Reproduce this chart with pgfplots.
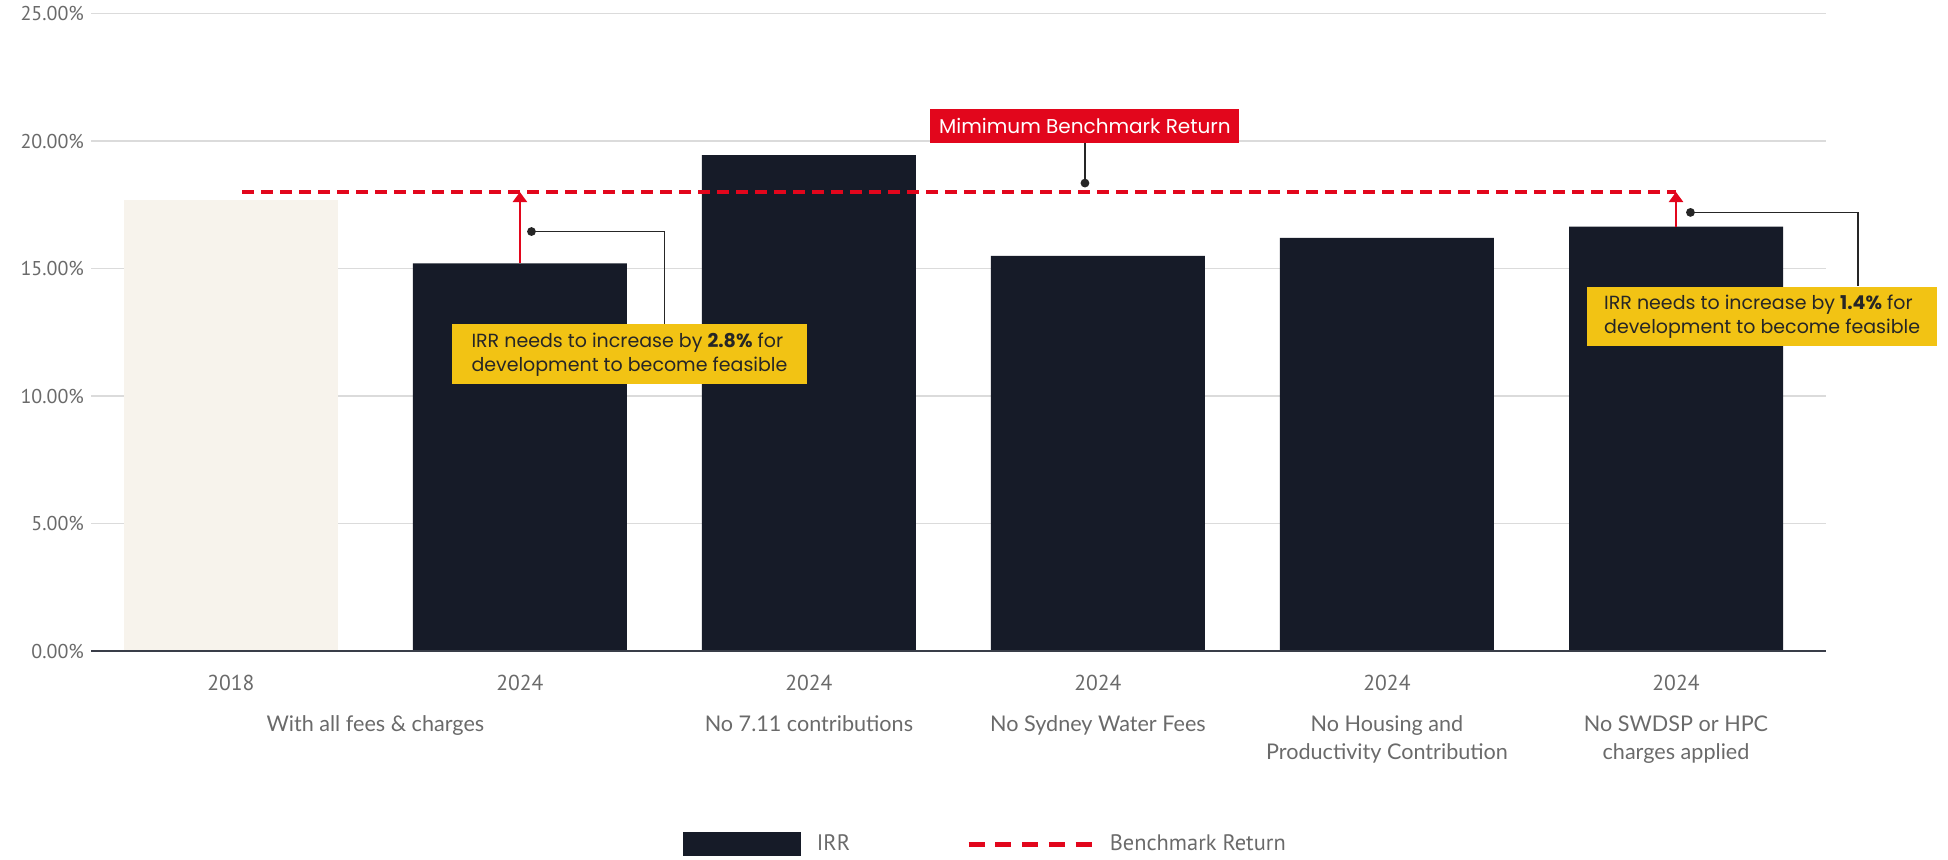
\documentclass[border=0pt]{standalone}
\usepackage{fontspec}
\setmainfont{Lato}
\newfontfamily\din{PT Sans}
\newfontfamily\pop{Poppins}
\usepackage{pgfplots}
\pgfplotsset{compat=1.18}
\usetikzlibrary{arrows.meta}
\definecolor{navy}{HTML}{161B28}
\definecolor{beige}{HTML}{F7F3EC}
\definecolor{bred}{HTML}{E2061C}
\definecolor{gold}{HTML}{F2C314}
\definecolor{tgray}{HTML}{6A6A6A}
\begin{document}
\begin{tikzpicture}
\path[use as bounding box] (-45.5pt,-104pt) rectangle (928.5pt,325.5pt);
\begin{axis}[
  at={(0,0)}, anchor=south west,
  scale only axis, width=867.5pt, height=318.75pt,
  xmin=-0.484, xmax=5.519, ymin=0, ymax=25,
  clip=false,
  axis line style={draw=none},
  tick style={draw=none},
  ytick={0,5,10,15,20,25},
  /pgf/number format/assume math mode=true,
  yticklabel={\pgfmathprintnumber[fixed,fixed zerofill,precision=2]{\tick}\%},
  yticklabel style={font=\din\fontsize{10}{11}\selectfont, text=tgray},
  ymajorgrids, grid style={gray!28, line width=0.6pt},
  xtick={0,1,2,3,4,5},
  xticklabels={
    {\din 2018},
    {\din 2024},
    {{\din 2024}\\[6pt]No 7.11 contributions},
    {{\din 2024}\\[6pt]No Sydney Water Fees},
    {{\din 2024}\\[6pt]No Housing and\\Productivity Contribution},
    {{\din 2024}\\[6pt]No SWDSP or HPC\\charges applied}},
  extra x ticks={0.5},
  extra x tick labels={{{\din\phantom{2024}}\\[6pt]With all fees \& charges}},
  extra x tick style={grid=none},
  xticklabel style={align=center, anchor=north, text=tgray, font=\fontsize{10.8}{14.3}\selectfont, yshift=-8.5pt},
  legend style={at={(0.5195,-0.303)}, anchor=center, draw=none, fill=none,
    legend columns=2, font=\din\fontsize{11.2}{13}\selectfont, text=tgray,
    /tikz/every even column/.append style={column sep=50pt},
    nodes={inner xsep=8pt}},
]
\addplot[ybar, bar width=107pt, fill=beige, draw=none, forget plot] coordinates {(0,17.7)};
\addplot[ybar, bar width=107pt, fill=navy, draw=none,
  legend image code/.code={\fill[navy] (0pt,-6pt) rectangle (59pt,6pt);}]
  coordinates {(1,15.2) (2,19.45) (3,15.5) (4,16.2) (5,16.64)};
\addlegendentry{IRR}
\addplot[bred, line width=2pt, dash pattern=on 6pt off 3.5pt,
  legend image code/.code={\draw[bred, line width=2.4pt, dash pattern=on 8pt off 5.4pt] (0pt,0pt) -- (61.5pt,0pt);}]
  coordinates {(0.04,18) (5,18)};
\addlegendentry{Benchmark Return}

\draw[navy!85, line width=1pt] (axis cs:-0.484,0) -- (axis cs:5.519,0);

% left callout
\draw[bred, line width=1.2pt, -{Triangle[length=5pt,width=7pt]}] (axis cs:1.0,15.2) -- (axis cs:1.0,18);
\draw[black!85, line width=0.7pt] (axis cs:1.04,16.45) -- (axis cs:1.5,16.45) -- (axis cs:1.5,12.8);
\fill[black!85] (axis cs:1.04,16.45) circle (2.2pt);
\node[fill=gold, minimum width=177.5pt, minimum height=30pt, align=left, inner xsep=4pt,
  font=\pop\fontsize{9.5}{12}\selectfont, text=black!85] at (axis cs:1.379,11.63)
  {IRR needs to increase by \textbf{2.8\%} for\\development to become feasible};

% benchmark label
\draw[black!85, line width=0.7pt] (axis cs:2.955,18.35) -- (axis cs:2.955,20.0);
\fill[black!85] (axis cs:2.955,18.35) circle (2.2pt);
\node[fill=bred, minimum width=154.5pt, minimum height=17pt, inner ysep=2pt, text=white,
  font=\pop\fontsize{10}{11}\selectfont] at (axis cs:2.955,20.6) {Mimimum Benchmark Return};

% right callout
\draw[bred, line width=1.2pt, -{Triangle[length=5pt,width=7pt]}] (axis cs:5.0,16.64) -- (axis cs:5.0,18);
\draw[black!85, line width=0.7pt] (axis cs:5.05,17.2) -- (axis cs:5.63,17.2) -- (axis cs:5.63,14.3);
\fill[black!85] (axis cs:5.05,17.2) circle (2.2pt);
\node[fill=gold, minimum width=175pt, minimum height=29.5pt, align=left, inner xsep=4pt,
  font=\pop\fontsize{9.5}{12}\selectfont, text=black!85] at (axis cs:5.298,13.1)
  {IRR needs to increase by \textbf{1.4\%} for\\development to become feasible};
\end{axis}
\end{tikzpicture}
\end{document}
